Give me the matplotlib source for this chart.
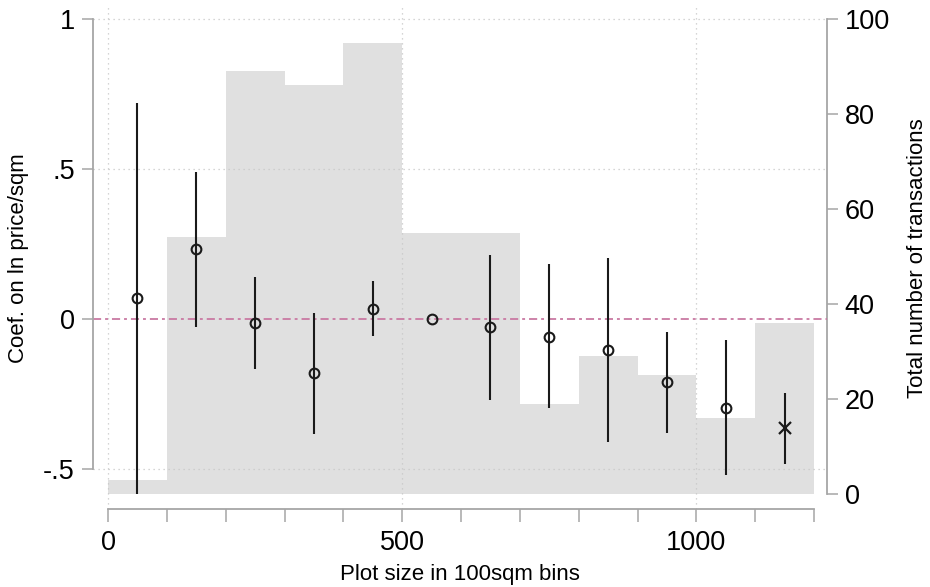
import matplotlib
matplotlib.use("Agg")
import matplotlib.pyplot as plt
import numpy as np

plt.rcParams['font.family'] = ['Liberation Sans', 'DejaVu Sans']

# ---- data ----
bin_left = [0, 100, 200, 300, 400, 500, 600, 700, 800, 900, 1000, 1100]
counts = [3, 54, 89, 86, 95, 55, 55, 19, 29, 25, 16, 36]

bin_mid = [50, 150, 250, 350, 450, 550, 650, 750, 850, 950, 1050, 1150]
coef = [0.068, 0.232, -0.014, -0.182, 0.032, 0.0, -0.029, -0.060, -0.105, -0.212, -0.297, -0.365]
ci_lo = [-0.585, -0.027, -0.168, -0.384, -0.059, np.nan, -0.270, -0.299, -0.412, -0.380, -0.520, -0.484]
ci_hi = [0.720, 0.490, 0.140, 0.020, 0.126, np.nan, 0.211, 0.181, 0.202, -0.044, -0.071, -0.249]
is_last = [False] * 11 + [True]

xticks = list(range(0, 1201, 100))
xtick_labels = ['0', '', '', '', '', '500', '', '', '', '', '1000', '', '']
yticks_left = [-0.5, 0, 0.5, 1]
ytick_left_labels = ['-.5', '0', '.5', '1']
yticks_right = [0, 20, 40, 60, 80, 100]

# ---- figure ----
fig = plt.figure(figsize=(9.3, 5.87), dpi=100)
ax = fig.add_axes([0.100, 0.1329, 0.789, 0.855])
axh = ax.twinx()
ax.set_zorder(axh.get_zorder() + 1)
ax.patch.set_visible(False)

spine_c = '#a6a6a6'
grid_c = '#c8c8c8'
tick_fs = 19.5
lab_fs = 16

# histogram (right axis)
axh.bar(bin_left, counts, width=100, align='edge', color='#e0e0e0', linewidth=0)
axh.set_ylim(-3.16, 102.5)
axh.set_yticks(yticks_right)
axh.set_yticklabels([str(v) for v in yticks_right], fontsize=tick_fs)
axh.tick_params(axis='y', direction='out', length=8, width=1.1, color=spine_c, pad=5)
for s in ['left', 'top', 'bottom']:
    axh.spines[s].set_visible(False)
axh.spines['right'].set_bounds(0, 100)
axh.spines['right'].set_color(spine_c)
axh.spines['right'].set_linewidth(1.3)
axh.set_ylabel('Total number of transactions', fontsize=lab_fs, labelpad=12)

# coefficient axis (left)
ax.set_xlim(-25.5, 1221.7)
ax.set_ylim(-0.634, 1.039)

for gx in [0, 500, 1000]:
    ax.axvline(gx, linestyle=(0, (1, 3)), color=grid_c, linewidth=0.9, zorder=1)
for gy in [-0.5, 0.5, 1]:
    ax.axhline(gy, linestyle=(0, (1, 3)), color=grid_c, linewidth=0.9, zorder=1)

ax.axhline(0, color='#c97aa3', linestyle=(0, (4.5, 2.2, 1.6, 2.2)), linewidth=1.3, zorder=2)

ax.vlines(bin_mid, ci_lo, ci_hi, color='#1a1a1a', linewidth=1.5, zorder=3)
for x, y, last in zip(bin_mid, coef, is_last):
    if last:
        ax.plot(x, y, marker='x', color='#1a1a1a', markersize=8, mew=1.6, zorder=4)
    else:
        ax.plot(x, y, marker='o', markerfacecolor='none', markeredgecolor='#1a1a1a',
                markersize=7, mew=1.5, zorder=4)

ax.set_xticks(xticks)
ax.set_xticklabels(xtick_labels, fontsize=tick_fs)
ax.set_yticks(yticks_left)
ax.set_yticklabels(ytick_left_labels, fontsize=tick_fs)
ax.tick_params(axis='x', direction='out', length=9, width=1.1, color=spine_c, pad=6)
ax.tick_params(axis='y', direction='out', length=8, width=1.1, color=spine_c, pad=5)

for s in ['top', 'right']:
    ax.spines[s].set_visible(False)
ax.spines['left'].set_bounds(-0.5, 1)
ax.spines['bottom'].set_bounds(0, 1200)
for s in ['left', 'bottom']:
    ax.spines[s].set_color(spine_c)
    ax.spines[s].set_linewidth(1.3)

ax.set_xlabel('Plot size in 100sqm bins', fontsize=lab_fs, labelpad=6)
ax.set_ylabel('Coef. on ln price/sqm', fontsize=lab_fs, labelpad=10)

fig.savefig('out.png', dpi=100)
